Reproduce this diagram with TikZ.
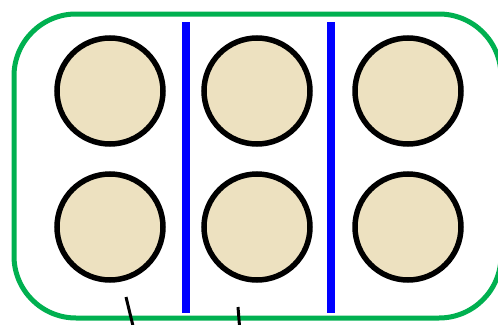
\documentclass[tikz,border=0pt]{standalone}
\definecolor{boxgreen}{RGB}{0,176,80}
\definecolor{divblue}{RGB}{0,0,255}
\definecolor{beige}{RGB}{237,225,192}
\begin{document}
\begin{tikzpicture}[x=1pt,y=-1pt,
  well/.style={circle,draw=black,line width=5.5pt,fill=beige,minimum size=106pt,inner sep=0pt},
  divider/.style={draw=divblue,line width=8pt},
  lead/.style={draw=black,line width=3pt}]
\useasboundingbox (0,0) rectangle (498,324);
\begin{scope}
\clip (0,0) rectangle (498,324);
\draw[boxgreen,line width=5pt,rounded corners=62pt] (14,14) rectangle (501,318);
\end{scope}
\node[well] (c11) at (110,91) {};
\node[well] (c12) at (257,91) {};
\node[well] (c13) at (408,91) {};
\node[well] (c21) at (110,227) {};
\node[well] (c22) at (257,227) {};
\node[well] (c23) at (408,227) {};
\coordinate (b1t) at (186,22);
\coordinate (b1b) at (186,313);
\coordinate (b2t) at (331,22);
\coordinate (b2b) at (331,313);
\draw[divider] (b1t) -- (b1b);
\draw[divider] (b2t) -- (b2b);
\coordinate (l1a) at (126,297);
\coordinate (l1b) at (133,326);
\coordinate (l2a) at (238,307);
\coordinate (l2b) at (239.5,326);
\draw[lead] (l1a) -- (l1b);
\draw[lead] (l2a) -- (l2b);
\end{tikzpicture}
\end{document}
